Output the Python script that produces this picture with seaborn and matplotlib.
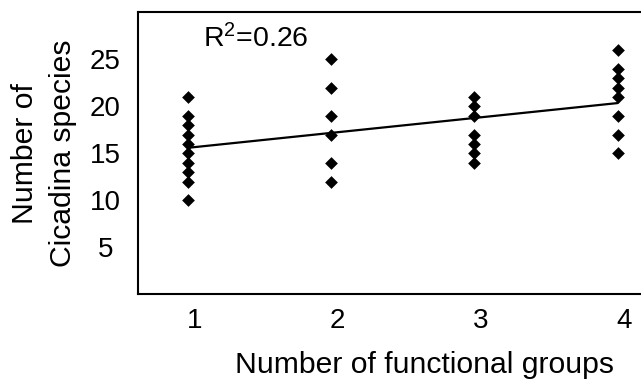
import matplotlib
matplotlib.use("Agg")
import matplotlib.pyplot as plt
import seaborn as sns
import pandas as pd

# Data
groups_1 = [10, 12, 13, 14, 15, 16, 17, 18, 19, 21]
groups_2 = [12, 14, 17, 19, 22, 25]
groups_3 = [14, 15, 16, 17, 19, 20, 21]
groups_4 = [15, 17, 19, 21, 22, 23, 24, 26]
x_levels = [1, 2, 3, 4]
x_tick_labels = ["1", "2", "3", "4"]
y_ticks = [5, 10, 15, 20, 25]
r2_text = r"R$^{\mathregular{2}}$=0.26"

rows = []
for lvl, vals in zip(x_levels, [groups_1, groups_2, groups_3, groups_4]):
    for v in vals:
        rows.append({"groups": lvl, "species": v})
df = pd.DataFrame(rows)

sns.set_theme(style="white")
plt.rcParams["font.family"] = ["Liberation Sans", "DejaVu Sans"]
plt.rcParams["mathtext.default"] = "regular"

W, H = 641, 379
fig = plt.figure(figsize=(W / 100, H / 100), dpi=100)
left, right, top, bottom = 138, 646.3, 12.3, 294.4
ax = fig.add_axes([left / W, 1 - bottom / H, (right - left) / W, (bottom - top) / H])

sns.regplot(data=df, x="groups", y="species", ax=ax, ci=None,
            marker="D", color="black",
            scatter_kws={"s": 42, "linewidths": 0, "alpha": 1, "zorder": 3},
            line_kws={"lw": 1.6, "color": "black"})

ax.set_xlim(0.653, 4.2)
ax.set_ylim(0, 30)
ax.set_xticks([v + 0.047 for v in x_levels])
ax.set_xticklabels(x_tick_labels)
ax.set_yticks(y_ticks)

for s in ["left", "bottom", "top"]:
    ax.spines[s].set_visible(True)
    ax.spines[s].set_color("black")
    ax.spines[s].set_linewidth(1.5)
ax.spines["right"].set_visible(False)

FS = 20
LFS = 21.7
ax.tick_params(axis="both", direction="in", colors="black", labelsize=FS,
               width=1.5)
ax.tick_params(axis="y", length=8.6, pad=23.4)
ax.tick_params(axis="x", length=8, pad=9.5)
for lab in ax.get_yticklabels():
    lab.set_horizontalalignment("center")

ax.set_xlabel("Number of functional groups", fontsize=LFS, color="black")
ax.xaxis.set_label_coords(0.564, -0.2)
ax.set_ylabel("Number of\nCicadina species", fontsize=LFS, color="black",
              linespacing=1.45)
ax.yaxis.set_label_coords(-0.12, 0.5)

ax.text(1.107, 26.26, r2_text, fontsize=20.5, color="black", va="baseline",
        ha="left")

fig.savefig("out.png", dpi=100)
